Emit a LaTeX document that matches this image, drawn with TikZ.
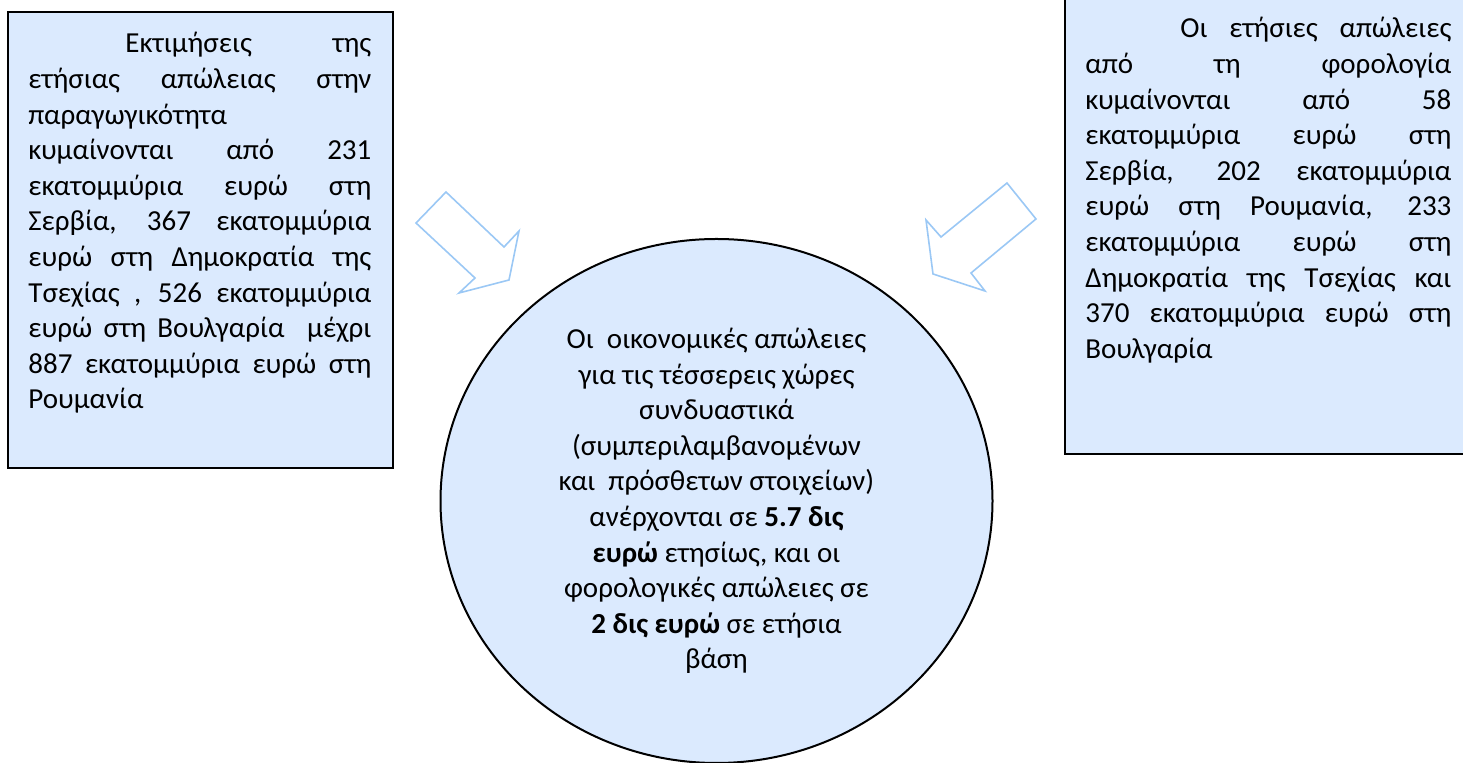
\documentclass[tikz,border=0pt]{standalone}
\usepackage{fontspec}
\setmainfont{Carlito}
\usetikzlibrary{shapes.geometric}
\definecolor{boxfill}{RGB}{219,234,254}
\definecolor{arrowline}{RGB}{155,200,245}
\begin{document}
\begin{tikzpicture}[x=0.5pt,y=-0.5pt,
	infobox/.style={draw=black,line width=1pt,fill=boxfill},
	boxtext/.style={inner sep=0pt,align=justify,font=\fontsize{14.5pt}{17.8pt}\selectfont},
	hollowarrow/.style={draw=arrowline,line width=0.8pt,fill=white,line join=miter}]
	\useasboundingbox (0,0) rectangle (1463,763);
	\clip (0,0) rectangle (1463,763);
	% left box
	\draw[infobox] (7.5,12.5) rectangle (392.5,468.5);
	\node[boxtext,anchor=base west,text width=171.5pt] (prod) at (28,53) {\parindent=48.5pt\indent Εκτιμήσεις της\linebreak ετήσιας απώλειας στην\linebreak παραγωγικότητα\newline κυμαίνονται από 231\linebreak εκατομμύρια ευρώ στη\linebreak Σερβία, 367 εκατομμύρια\linebreak ευρώ στη Δημοκρατία της\linebreak Τσεχίας , 526 εκατομμύρια\linebreak ευρώ στη Βουλγαρία~ μέχρι\linebreak 887 εκατομμύρια ευρώ στη\linebreak Ρουμανία};
	% right box
	\draw[infobox] (1064.5,-3) rectangle (1480,454.5);
	\node[boxtext,anchor=base west,text width=183pt] (tax) at (1085,38) {\parindent=47.5pt\indent Οι ετήσιες απώλειες\linebreak από τη φορολογία\linebreak κυμαίνονται από 58\linebreak εκατομμύρια ευρώ στη\linebreak Σερβία, 202 εκατομμύρια\linebreak ευρώ στη Ρουμανία, 233\linebreak εκατομμύρια ευρώ στη\linebreak Δημοκρατία της Τσεχίας και\linebreak 370 εκατομμύρια ευρώ στη\linebreak Βουλγαρία};
	% centre
	\node[draw=black,line width=1pt,fill=boxfill,ellipse,inner sep=0pt,minimum width=276pt,minimum height=262pt,align=center,font=\fontsize{14.5pt}{17.8pt}\selectfont] (total) at (716.5,501) {Οι~ οικονομικές απώλειες\\ για τις τέσσερεις χώρες\\ συνδυαστικά\\ (συμπεριλαμβανομένων\\ και~ πρόσθετων στοιχείων)\\ ανέρχονται σε \textbf{5.7 δις}\\ \textbf{ευρώ} ετησίως, και οι\\ φορολογικές απώλειες σε\\ \textbf{2 δις ευρώ} σε ετήσια\\ βάση};
	% arrows
	\draw[hollowarrow] (446,192)--(504,247)--(519,231)--(509,280)--(459,293)--(475,278)--(416,223)--cycle;
	\draw[hollowarrow] (1007,183)--(1036,219)--(971,273)--(985,291)--(933,274)--(926,220)--(941,237)--cycle;
\end{tikzpicture}
\end{document}
